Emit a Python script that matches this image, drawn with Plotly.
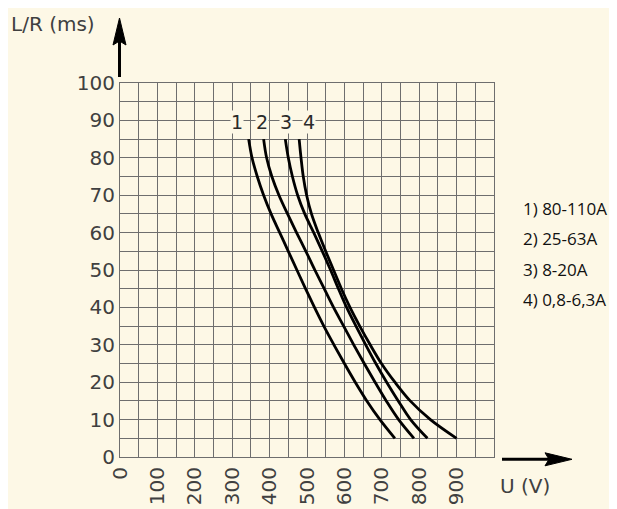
import plotly.graph_objects as go

# ---- data ----
lr_values = [85, 80, 75, 70, 65, 60, 55, 50, 45, 40, 35, 30, 25, 20, 15, 10, 5]
curve1_u = [344, 353, 367, 384, 404, 427, 450, 473, 496, 520, 545, 572, 600, 629, 660, 695, 735]
curve2_u = [384, 392, 406, 425, 448, 472, 497, 521, 546, 571, 598, 625, 653, 682, 712, 745, 786]
curve3_u = [442, 450, 461, 475, 494, 518, 541, 563, 584, 606, 631, 657, 684, 713, 744, 777, 822]
curve4_u = [479, 484, 490, 499, 512, 530, 550, 571, 592, 615, 641, 669, 699, 735, 776, 830, 900]
curve_names = ["1", "2", "3", "4"]
curve_label_u = [314, 379, 444, 505]
curve_label_lr = 89.5
legend_texts = ["1) 80-110A", "2) 25-63A", "3) 8-20A", "4) 0,8-6,3A"]
x_tick_vals = [0, 100, 200, 300, 400, 500, 600, 700, 800, 900]
y_tick_vals = [0, 10, 20, 30, 40, 50, 60, 70, 80, 90, 100]

# ---- layout constants (page has an 8px body margin) ----
OFF = 8
W, H = 617 - OFF, 509 - OFF
PL, PT, PW, PH = 120, 83, 374, 374          # plot area in window pixels
ML, MT = PL - OFF, PT - OFF
MR, MB = W - ML - PW, H - MT - PH
BG = "#fdf8e6"
GRID = "#6e6e6e"
TXT = "#404040"
TICKFONT = dict(family="DejaVu Sans", size=20, color=TXT)


def px(x):
    return (x - PL) / PW


def py(y):
    return (PT + PH - y) / PH


fig = go.Figure()
for name, us in zip(curve_names, [curve1_u, curve2_u, curve3_u, curve4_u]):
    fig.add_trace(go.Scatter(x=us, y=lr_values, mode="lines", name=name,
                             line=dict(color="#000000", width=2.8, shape="spline", smoothing=1.0),
                             hoverinfo="skip", showlegend=False))

annotations = []
for name, u in zip(curve_names, curve_label_u):
    annotations.append(dict(x=u, y=curve_label_lr, xref="x", yref="y", text=name, showarrow=False,
                            font=dict(family="DejaVu Sans", size=19, color="#2a2a2a"),
                            bgcolor=BG, borderpad=0))

for i, t in enumerate(legend_texts):
    annotations.append(dict(x=px(521), y=py(208 + 30.5 * i), xref="paper", yref="paper", text=t,
                            showarrow=False, xanchor="left", yanchor="middle",
                            font=dict(family="Open Sans", size=17, color="#111111")))

annotations.append(dict(x=px(53), y=py(24), xref="paper", yref="paper", text="L/R (ms)", showarrow=False,
                        xanchor="center", yanchor="middle", font=TICKFONT))
annotations.append(dict(x=px(525), y=py(486), xref="paper", yref="paper", text="U (V)", showarrow=False,
                        xanchor="center", yanchor="middle", font=TICKFONT))

shapes = [
    # y arrow shaft + head
    dict(type="line", xref="paper", yref="paper", x0=px(119.5), x1=px(119.5), y0=py(77), y1=py(40),
         line=dict(color="#000000", width=3)),
    dict(type="path", xref="paper", yref="paper",
         path=f"M {px(119.5)} {py(18)} L {px(113)} {py(45)} L {px(119.5)} {py(41)} L {px(126)} {py(45)} Z",
         fillcolor="#000000", line=dict(color="#000000", width=1)),
    # x arrow shaft + head
    dict(type="line", xref="paper", yref="paper", x0=px(502), x1=px(550), y0=py(459.3), y1=py(459.3),
         line=dict(color="#000000", width=3)),
    dict(type="path", xref="paper", yref="paper",
         path=f"M {px(572)} {py(459.3)} L {px(545)} {py(452.8)} L {px(549)} {py(459.3)} L {px(545)} {py(465.8)} Z",
         fillcolor="#000000", line=dict(color="#000000", width=1)),
]

fig.update_layout(
    width=W, height=H,
    margin=dict(l=ML, r=MR, t=MT, b=MB, pad=0),
    paper_bgcolor=BG, plot_bgcolor=BG,
    annotations=annotations, shapes=shapes,
    xaxis=dict(range=[0, 1000], tickvals=x_tick_vals, ticktext=[str(v) for v in x_tick_vals],
               tickangle=-90, tickfont=TICKFONT, ticks="", ticklabelstandoff=1,
               showgrid=True, gridcolor=GRID, gridwidth=1,
               minor=dict(dtick=50, tick0=0, showgrid=True, gridcolor=GRID, gridwidth=1),
               showline=True, mirror=True, linecolor=GRID, linewidth=1,
               zeroline=False, automargin=False, fixedrange=True),
    yaxis=dict(range=[0, 100], tickvals=y_tick_vals, tickfont=TICKFONT, ticks="", ticklabelstandoff=0,
               showgrid=True, gridcolor=GRID, gridwidth=1,
               minor=dict(dtick=5, tick0=0, showgrid=True, gridcolor=GRID, gridwidth=1),
               showline=True, mirror=True, linecolor=GRID, linewidth=1,
               zeroline=False, automargin=False, fixedrange=True),
)

fig.write_html("out.html", config={"displayModeBar": False})
